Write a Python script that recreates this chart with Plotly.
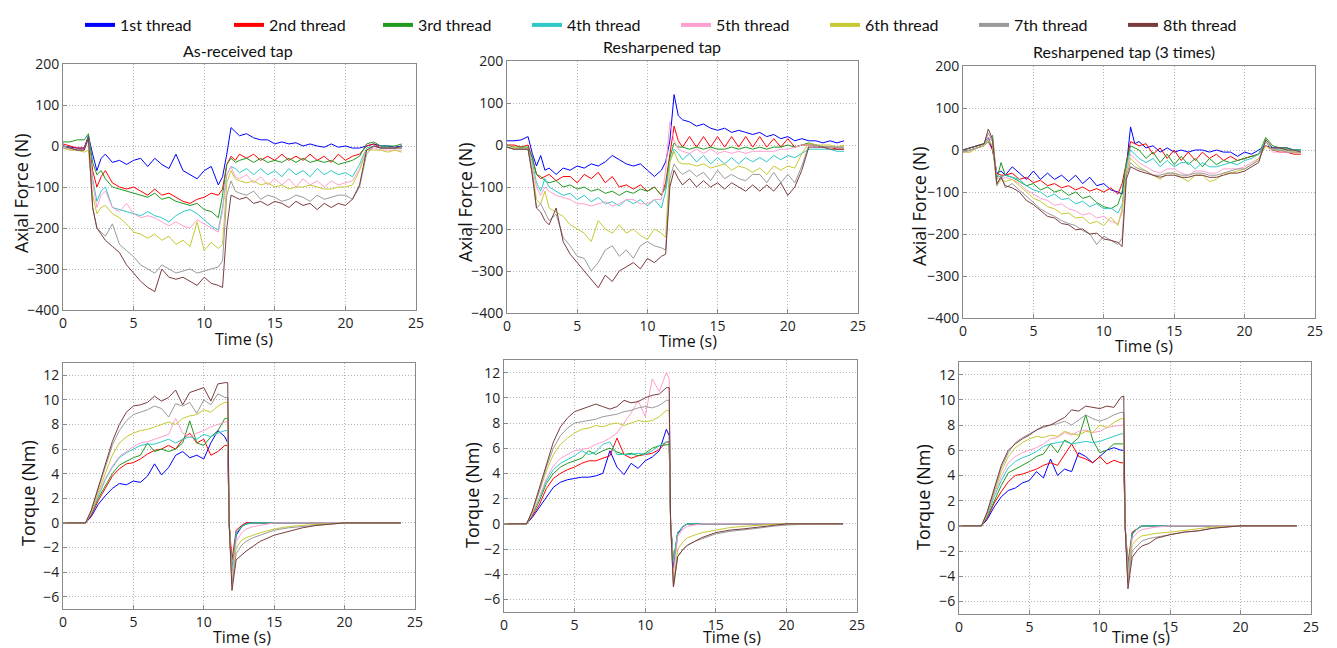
import plotly.graph_objects as go

# ---- data ----
threads = ["1st thread", "2nd thread", "3rd thread", "4th thread",
           "5th thread", "6th thread", "7th thread", "8th thread"]
colors = ["#0000ff", "#ff0000", "#1f9a1f", "#2ec8c8",
          "#ff9fcf", "#c8c832", "#9a9a9a", "#7a3c3c"]
titles = ["As-received tap", "Resharpened tap", "Resharpened tap (3 times)"]

t_force = [0, 0.5, 1, 1.5, 1.8, 2.1, 2.4, 2.7, 3,
           3.5, 4, 4.5, 5, 5.5, 6, 6.5, 7, 7.5, 8, 8.5, 9, 9.5, 10, 10.5, 11,
           11.3, 11.6, 11.9, 12.2, 12.5,
           13, 13.5, 14, 14.5, 15, 15.5, 16, 16.5, 17, 17.5, 18, 18.5, 19, 19.5,
           20, 20.5, 21, 21.5, 22, 22.5, 23, 23.5, 24]

t_torque = [0, 1, 1.6, 2,
            2.5, 3, 3.5, 4, 4.5, 5, 5.5, 6, 6.5, 7, 7.5, 8, 8.5, 9, 9.5, 10, 10.5, 11, 11.5,
            11.7, 11.8, 12, 12.3, 12.7,
            13, 13.5, 14, 15, 16, 17, 18, 19, 20, 22, 24]

force_as_received = [
    [0, -3, -5, -5, 25, -20, -60, -30, -20,
     -40, -35, -45, -35, -30, -50, -30, -45, -55, -20, -60, -70, -80, -60, -50, -95,
     -75, -20, 45, 35, 25,
     30, 20, 15, 15, 5, 10, 5, 8, 0, 5, 0, -3, 5, -3, 0, -5, -5, 0, 5, 0, 0, -3, 0],
    [5, 0, -5, -5, 20, -60, -100, -75, -60,
     -90, -100, -105, -100, -110, -120, -105, -120, -115, -125, -135, -140, -130, -125, -115, -120,
     -105, -45, -25, -35, -20,
     -30, -20, -35, -25, -35, -20, -35, -25, -35, -20, -35, -25, -40, -20, -35, -25, -20, 0, 5, -5, -5, -5, -5],
    [10, 10, 15, 15, 30, -40, -70, -60, -80,
     -100, -105, -110, -115, -120, -125, -115, -130, -125, -135, -140, -145, -140, -155, -160, -175,
     -120, -45, -30, -40, -35,
     -30, -40, -30, -40, -35, -40, -30, -40, -30, -40, -35, -40, -35, -45, -40, -35, -25, 5, 10, 0, 0, 0, 5],
    [0, -5, -10, -10, 20, -80, -135, -110, -100,
     -150, -155, -160, -165, -170, -160, -170, -175, -185, -170, -160, -155, -165, -180, -195, -205,
     -150, -70, -50, -55, -65,
     -55, -70, -55, -70, -60, -75, -55, -70, -60, -75, -55, -70, -60, -70, -65, -75, -45, -5, 0, -5, -5, -5, -5],
    [-5, -10, -10, -10, 15, -90, -150, -120, -110,
     -150, -160, -140, -165, -175, -170, -175, -185, -195, -185, -195, -200, -180, -190, -200, -210,
     -160, -70, -50, -75, -80,
     -70, -90, -75, -95, -80, -95, -80, -100, -80, -95, -85, -100, -85, -95, -90, -85, -55, -10, -5, -10, -10, -10, -10],
    [-5, -10, -10, -15, -10, -120, -165, -150, -145,
     -165, -175, -190, -210, -215, -225, -215, -230, -220, -240, -230, -245, -185, -255, -235, -250,
     -240, -90, -60, -80, -85,
     -90, -85, -95, -90, -100, -95, -105, -100, -100, -95, -100, -105, -105, -100, -100, -95, -60, -10, -10, -10, -15, -10, -15],
    [-5, -5, -10, -10, 20, -150, -200, -210, -220,
     -190, -240, -255, -270, -290, -300, -310, -290, -300, -310, -305, -300, -310, -305, -300, -295,
     -280, -120, -85, -110, -115,
     -120, -110, -130, -120, -125, -135, -130, -120, -125, -135, -120, -130, -125, -120, -120, -130, -100, -20, 0, -5, -5, -5, -5],
    [0, -5, -10, -10, 20, -150, -200, -215, -230,
     -245, -260, -290, -310, -330, -345, -355, -300, -320, -325, -320, -330, -340, -320, -335, -340,
     -345, -200, -120, -125, -130,
     -125, -140, -135, -145, -135, -140, -150, -135, -145, -140, -155, -140, -150, -140, -145, -130, -95, -10, 0, -5, -5, -5, 0],
]

force_resharpened = [
    [10, 10, 12, 20, -20, -50, -25, -60, -55,
     -70, -55, -60, -50, -55, -45, -50, -40, -25, -35, -45, -50, -45, -60, -75, -60,
     -40, 10, 120, 70, 60,
     55, 45, 50, 40, 35, 40, 30, 35, 30, 25, 30, 20, 25, 15, 20, 10, 15, 10, 10, 5, 10, 5, 10],
    [0, 0, -5, 0, -30, -70, -80, -75, -70,
     -85, -75, -75, -90, -70, -80, -65, -90, -75, -100, -95, -105, -95, -110, -100, -120,
     -90, -20, 45, 10, -5,
     20, -5, 20, -5, 20, -5, 20, -5, 20, -5, 20, -5, 15, -5, 15, -5, 0, 0, 0, -5, -5, -10, -10],
    [0, -5, -5, -5, -30, -70, -75, -85, -90,
     -85, -100, -95, -105, -100, -110, -105, -115, -110, -120, -110, -115, -105, -110, -100, -120,
     -100, -30, 5, -5, -5,
     -10, -5, -10, -5, -10, -10, -5, -10, -5, -10, -5, -10, -5, -5, 0, -5, 0, 5, 0, -5, -5, -5, -5],
    [-5, -10, -10, -10, -40, -90, -110, -80, -100,
     -110, -120, -115, -130, -120, -135, -125, -140, -135, -145, -130, -140, -130, -145, -130, -150,
     -110, -40, -10, -20, -35,
     -20, -40, -25, -45, -30, -45, -30, -45, -30, -40, -30, -40, -25, -35, -25, -30, -20, -10, -10, -10, -10, -15, -15],
    [-5, -10, -10, -10, -50, -100, -120, -100, -110,
     -120, -125, -130, -140, -140, -145, -140, -135, -145, -140, -130, -130, -140, -140, -130, -130,
     -60, 55, 10, -10, -15,
     -20, -10, -20, -10, -20, -15, -20, -15, -20, -15, -15, -15, -15, -10, -10, -5, 0, 0, -5, -5, -5, -5, -5],
    [-5, -5, -10, -10, -60, -130, -140, -110, -150,
     -160, -170, -190, -200, -210, -230, -180, -200, -210, -190, -210, -200, -215, -225, -200, -210,
     -220, -40, -15, -40, -45,
     -45, -50, -45, -55, -50, -45, -60, -50, -55, -65, -55, -70, -50, -60, -50, -55, -20, 5, 0, 0, 0, -5, 0],
    [-5, -10, -10, -10, -70, -150, -140, -160, -180,
     -165, -220, -240, -265, -270, -300, -280, -250, -240, -265, -250, -270, -240, -230, -240, -245,
     -250, -80, -45, -60, -70,
     -60, -75, -65, -85, -60, -80, -70, -80, -85, -70, -70, -90, -65, -90, -70, -90, -50, 0, 0, -5, -5, -5, -5],
    [-5, -10, -10, -10, -70, -150, -160, -180, -190,
     -150, -230, -260, -280, -300, -320, -340, -310, -325, -300, -290, -280, -295, -270, -280, -265,
     -260, -100, -60, -80, -95,
     -80, -100, -85, -100, -90, -105, -90, -100, -110, -95, -110, -95, -110, -90, -120, -100, -60, -5, -5, -5, -10, -10, -10],
]

force_resharpened_3x = [
    [0, 5, 10, 15, 30, 0, -55, -50, -60,
     -40, -55, -70, -50, -70, -55, -70, -60, -75, -60, -80, -65, -85, -80, -95, -100,
     -105, -40, 55, 15, 20,
     5, 10, -5, 5, -5, 0, -5, 0, 0, -5, 0, -5, -5, -15, -5, -10, 0, 10, 5, 5, 5, 0, 0],
    [-5, 0, 5, 10, 20, 0, -55, -60, -60,
     -55, -70, -65, -78, -72, -85, -80, -90, -85, -95, -88, -98, -92, -100, -90, -105,
     -80, -30, 20, 15, 10,
     15, -10, 5, -20, 0, -25, -5, -25, -5, -20, -10, -25, -15, -25, -20, -15, -10, 10, 0, -5, -5, -10, -10],
    [0, 5, 10, 15, 25, 35, -70, -30, -60,
     -65, -75, -85, -80, -95, -88, -100, -95, -108, -100, -115, -110, -125, -135, -140, -130,
     -100, -30, 10, 5, 0,
     -20, -5, -30, -10, -35, -15, -35, -20, -40, -20, -35, -25, -30, -25, -20, -15, -10, 30, 10, 5, 5, 0, 0],
    [-5, 0, 5, 10, 20, 10, -60, -65, -60,
     -65, -70, -85, -95, -100, -112, -105, -118, -115, -128, -122, -135, -128, -140, -138, -150,
     -130, -40, 0, -10, -20,
     -30, -20, -40, -25, -40, -30, -30, -45, -30, -40, -40, -35, -30, -35, -25, -20, -10, 20, 0, 0, 0, 0, 0],
    [-5, -5, 5, 10, 30, 20, -65, -70, -65,
     -70, -80, -95, -105, -115, -120, -132, -128, -140, -145, -155, -150, -162, -158, -170, -175,
     -150, -50, -10, -20, -30,
     -40, -50, -55, -45, -45, -55, -60, -50, -50, -55, -55, -45, -45, -45, -40, -30, -20, 10, -5, -5, -5, -5, -5],
    [-5, -5, 5, 10, 25, 10, -85, -70, -75,
     -70, -85, -100, -115, -122, -135, -140, -152, -150, -162, -160, -175, -170, -180, -160, -180,
     -140, -50, -20, -30, -40,
     -50, -60, -70, -55, -55, -65, -75, -60, -60, -75, -70, -55, -55, -50, -45, -35, -20, 10, 0, 0, 0, -5, -5],
    [-5, 0, 5, 15, 40, 20, -85, -60, -90,
     -80, -95, -110, -125, -140, -150, -158, -168, -175, -180, -192, -200, -225, -205, -215, -225,
     -210, -60, -30, -40, -45,
     -50, -60, -60, -55, -55, -60, -60, -55, -55, -60, -60, -55, -50, -45, -45, -35, -25, 20, 0, 0, -5, -5, -5],
    [0, 5, 10, 15, 50, 25, -80, -65, -85,
     -90, -100, -120, -130, -145, -158, -162, -175, -178, -190, -188, -200, -198, -212, -215, -220,
     -230, -70, -40, -45, -50,
     -55, -60, -65, -60, -60, -65, -65, -60, -60, -65, -65, -60, -55, -55, -50, -40, -30, 25, 5, 5, 0, 0, -5],
]

torque_as_received = [
    [0, 0, 0, 0.5,
     1.5, 2.2, 2.8, 3.2, 3.1, 3.4, 3.3, 3.8, 4.8, 3.9, 4.5, 5.5, 5.8, 5.3, 5.5, 5.2, 6.5, 7.5, 7.0,
     6.5, 0, -4, -1, -0.3,
     0, 0, 0, 0, 0, 0, 0, 0, 0, 0, 0],
    [0, 0, 0, 0.6,
     1.8, 2.8, 3.8, 4.4, 4.8, 4.9, 5.2, 5.6, 5.9, 6.0, 6.3, 6.0, 6.8, 7.3, 6.5, 6.8, 5.5, 5.8, 6.3,
     6.3, 0, -3, -0.6, -0.2,
     0, 0, 0, 0, 0, 0, 0, 0, 0, 0, 0],
    [0, 0, 0, 0.7,
     2.0, 3.0, 4.0, 4.7, 5.0, 5.3, 5.5, 6.5, 5.8, 6.0, 5.8, 6.0, 6.5, 8.3, 6.5, 6.3, 7.0, 7.5, 8.5,
     8.5, 0, -4, -0.8, -0.3,
     -0.1, 0, 0, 0, 0, 0, 0, 0, 0, 0, 0],
    [0, 0, 0, 0.8,
     2.2, 3.5, 4.5, 5.3, 5.7, 6.0, 6.3, 6.4, 6.4, 6.6, 6.8, 6.5, 6.8, 7.0, 6.8, 7.2, 7.0, 7.3, 7.5,
     7.5, 0, -4, -0.8, -0.3,
     -0.1, 0, 0, 0, 0, 0, 0, 0, 0, 0, 0],
    [0, 0, 0, 0.8,
     2.3, 3.6, 4.6, 5.4, 5.8, 6.2, 6.5, 6.6, 6.8, 7.0, 7.2, 8.5, 7.3, 7.0, 7.3, 7.5, 7.8, 8.0, 8.2,
     8.2, 0, -4.5, -1.5, -0.8,
     -0.5, -0.3, -0.2, 0, 0, 0, 0, 0, 0, 0, 0],
    [0, 0, 0, 0.9,
     2.5, 4.0, 5.5, 6.5, 7.0, 7.3, 7.5, 7.6, 7.8, 8.0, 8.2, 8.0, 8.5, 8.7, 8.8, 9.2, 9.0, 9.5, 9.8,
     9.8, 0, -5, -2, -1.4,
     -1.2, -1.0, -0.8, -0.5, -0.3, -0.2, -0.1, -0.05, 0, 0, 0],
    [0, 0, 0, 1.0,
     2.7, 4.5, 6.3, 7.5, 8.3, 8.8, 9.0, 9.2, 9.5, 9.3, 8.6, 9.7, 9.5, 9.8, 8.9, 10.0, 9.6, 10.5, 10.2,
     10.2, 0, -5, -2.5, -1.8,
     -1.5, -1.2, -1.0, -0.6, -0.4, -0.3, -0.2, -0.1, 0, 0, 0],
    [0, 0, 0, 1.0,
     2.8, 4.8, 6.6, 8.0, 9.0, 9.5, 9.6, 9.8, 10.3, 9.9, 10.2, 10.8, 9.6, 10.6, 10.8, 11.0, 9.9, 11.3, 11.4,
     11.4, 0, -5.5, -3.0, -2.6,
     -2.3, -1.9, -1.5, -1.0, -0.7, -0.4, -0.2, -0.1, 0, 0, 0],
]

torque_resharpened = [
    [0, 0, 0, 0.5,
     1.3, 2.2, 2.9, 3.3, 3.5, 3.6, 3.7, 3.7, 3.8, 4.0, 5.8, 4.5, 3.9, 4.8, 4.4, 5.0, 5.3, 5.8, 7.5,
     7.0, 0, -3.5, -0.8, -0.2,
     0, 0, 0, 0, 0, 0, 0, 0, 0, 0, 0],
    [0, 0, 0, 0.6,
     1.5, 2.8, 3.6, 4.0, 4.3, 4.5, 4.8, 5.0, 5.0, 5.2, 5.4, 6.8, 5.5, 5.2, 5.4, 5.5, 5.6, 5.9, 6.5,
     6.5, 0, -3, -0.7, -0.2,
     0, 0, 0, 0, 0, 0, 0, 0, 0, 0, 0],
    [0, 0, 0, 0.7,
     1.8, 3.2, 4.0, 4.5, 4.8, 5.0, 5.2, 5.8, 5.5, 5.8, 6.0, 5.7, 5.5, 5.6, 5.4, 5.6, 6.0, 6.2, 6.3,
     6.3, 0, -3, -0.7, -0.2,
     0, 0, 0, 0, 0, 0, 0, 0, 0, 0, 0],
    [0, 0, 0, 0.8,
     2.0, 3.4, 4.3, 4.8, 5.1, 5.4, 5.8, 5.5, 5.7, 6.3, 6.5, 5.5, 5.5, 5.5, 5.6, 5.5, 5.8, 6.2, 6.5,
     6.5, 0, -3, -0.7, -0.2,
     0, 0, 0, 0, 0, 0, 0, 0, 0, 0, 0],
    [0, 0, 0, 0.8,
     2.1, 3.6, 4.6, 5.2, 5.5, 5.8, 5.9, 6.0, 6.3, 6.5, 6.8, 7.2, 8.0, 8.8, 9.8, 8.5, 11.5, 10.5, 12.0,
     11.5, 0, -4, -1.0, -0.4,
     -0.2, -0.1, 0, 0, 0, 0, 0, 0, 0, 0, 0],
    [0, 0, 0, 0.9,
     2.5, 4.2, 5.5, 6.3, 6.8, 7.2, 7.5, 7.6, 7.8, 7.7, 7.9, 8.0, 7.8, 8.0, 8.2, 8.1, 8.2, 8.5, 9.0,
     9.0, 0, -4.8, -2.0, -1.4,
     -1.1, -0.9, -0.7, -0.5, -0.3, -0.2, -0.1, -0.05, 0, 0, 0],
    [0, 0, 0, 1.0,
     2.6, 4.5, 6.0, 7.0, 7.6, 8.0, 8.1, 8.2, 8.3, 8.5, 8.6, 8.7, 8.9, 9.0, 9.2, 9.3, 9.2, 9.4, 9.8,
     9.8, 0, -5, -2.6, -2.0,
     -1.7, -1.4, -1.2, -0.8, -0.6, -0.5, -0.35, -0.2, -0.1, 0, 0],
    [0, 0, 0, 1.0,
     2.8, 4.8, 6.5, 7.7, 8.4, 8.9, 9.1, 9.3, 9.5, 9.3, 9.1, 9.3, 9.8, 9.6, 9.7, 10.0, 10.2, 10.3, 10.8,
     10.8, 0, -5, -2.6, -2.0,
     -1.7, -1.4, -1.1, -0.7, -0.5, -0.4, -0.25, -0.1, 0, 0, 0],
]

torque_resharpened_3x = [
    [0, 0, 0, 0.5,
     1.5, 2.3, 2.8, 3.0, 3.4, 3.6, 4.3, 3.8, 5.3, 4.0, 4.5, 4.3, 5.8, 5.5, 5.0, 5.5, 6.0, 6.2, 6.0,
     6.0, 0, -4.5, -0.6, -0.2,
     0, 0, 0, 0, 0, 0, 0, 0, 0, 0, 0],
    [0, 0, 0, 0.6,
     1.8, 2.7, 3.5, 4.0, 4.1, 4.3, 4.5, 4.8, 5.0, 4.8, 5.7, 6.5, 5.5, 5.3, 5.0, 5.5, 4.9, 5.2, 5.0,
     5.0, 0, -3, -0.5, -0.2,
     0, 0, 0, 0, 0, 0, 0, 0, 0, 0, 0],
    [0, 0, 0, 0.7,
     2.0, 3.2, 4.2, 4.5, 4.8, 5.1, 5.5, 5.7, 6.5, 5.8, 6.8, 6.5, 7.0, 8.8, 6.8, 5.8, 6.0, 6.5, 6.5,
     6.5, 0, -3.5, -0.6, -0.2,
     0, 0, 0, 0, 0, 0, 0, 0, 0, 0, 0],
    [0, 0, 0, 0.8,
     2.3, 3.6, 4.6, 5.1, 5.4, 5.6, 5.9, 6.3, 6.5, 6.6, 6.7, 6.5, 6.6, 6.7, 6.6, 6.7, 6.9, 7.1, 7.3,
     7.3, 0, -3.5, -0.7, -0.2,
     0, 0, 0, 0, 0, 0, 0, 0, 0, 0, 0],
    [0, 0, 0, 0.9,
     2.5, 3.9, 5.0, 5.5, 5.8, 6.0, 6.2, 6.5, 6.9, 7.0, 7.4, 7.2, 7.5, 7.6, 7.4, 7.5, 7.8, 7.9, 8.0,
     8.0, 0, -4, -1.0, -0.5,
     -0.3, -0.2, -0.1, 0, 0, 0, 0, 0, 0, 0, 0],
    [0, 0, 0, 1.0,
     2.7, 4.3, 5.5, 6.2, 6.6, 6.9, 7.1, 7.0, 7.2, 7.1, 7.5, 7.3, 7.2, 7.5, 7.4, 8.0, 7.8, 8.2, 8.5,
     8.5, 0, -4.5, -1.5, -1.0,
     -0.8, -0.7, -0.6, -0.5, -0.35, -0.25, -0.1, -0.05, 0, 0, 0],
    [0, 0, 0, 1.0,
     2.9, 4.6, 5.8, 6.6, 7.0, 7.3, 7.6, 7.8, 8.0, 8.1, 8.3, 8.0, 8.4, 8.8, 8.5, 8.3, 8.5, 8.8, 9.0,
     9.0, 0, -4.5, -2.0, -1.5,
     -1.2, -1.0, -0.9, -0.7, -0.5, -0.4, -0.2, -0.1, 0, 0, 0],
    [0, 0, 0, 1.1,
     3.0, 4.8, 6.0, 6.5, 6.9, 7.2, 7.6, 7.9, 8.0, 8.3, 8.6, 9.2, 9.1, 9.5, 9.4, 9.3, 9.5, 9.4, 10.2,
     10.3, 0, -5, -2.5, -1.9,
     -1.6, -1.4, -1.0, -0.7, -0.5, -0.4, -0.2, -0.1, 0, 0, 0],
]

# ---- layout helpers ----
# the page body has an 8px margin, so the figure starts at (8, 8) in the window
PAGE_W, PAGE_H, OFF = 1337, 648, 8
W, H = PAGE_W - OFF, PAGE_H - OFF


def px_x(x):
    return (x - OFF) / W


def px_y(y):
    return 1 - (y - OFF) / H


# left, top, right, bottom of each plot frame (window pixels)
boxes = [(63, 64, 416, 310), (507, 61, 858, 313), (963, 66, 1315, 318),
         (63, 363, 415, 609), (504, 360, 857, 612), (959, 362, 1311, 614)]

panels = [
    (t_force, force_as_received), (t_force, force_resharpened), (t_force, force_resharpened_3x),
    (t_torque, torque_as_received), (t_torque, torque_resharpened), (t_torque, torque_resharpened_3x),
]

fig = go.Figure()

for i, (tt, series) in enumerate(panels):
    ax = "" if i == 0 else str(i + 1)
    for k, ys in enumerate(series):
        assert len(ys) == len(tt), (i, k, len(ys))
        fig.add_trace(go.Scatter(
            x=tt, y=ys, mode="lines", xaxis="x" + ax, yaxis="y" + ax,
            line=dict(color=colors[k], width=1), showlegend=False, hoverinfo="skip"))

# legend entries with thick sample lines
for k, name in enumerate(threads):
    fig.add_trace(go.Scatter(x=[None], y=[None], mode="lines", name=name,
                             line=dict(color=colors[k], width=4)))

axis_common = dict(showline=True, mirror=True, linecolor="#8a8a8a", linewidth=1,
                   showgrid=True, gridcolor="#b4b4b4", griddash="1px,2px", gridwidth=1,
                   zeroline=False, ticks="inside", ticklen=4, tickcolor="#8a8a8a",
                   automargin=False,
                   tickfont=dict(family="Open Sans", size=14, color="#222"))

layout = {}
for i, (l, t, r, b) in enumerate(boxes):
    ax = "" if i == 0 else str(i + 1)
    xa = dict(axis_common, domain=[px_x(l), px_x(r)], range=[0, 25], tick0=0, dtick=5,
              anchor="y" + ax)
    if i < 3:
        ya = dict(axis_common, domain=[px_y(b), px_y(t)], range=[-400, 200], tick0=-400,
                  dtick=100, anchor="x" + ax)
    else:
        ya = dict(axis_common, domain=[px_y(b), px_y(t)], range=[-7, 13], tickvals=list(range(-6, 13, 2)),
                  anchor="x" + ax)
    layout["xaxis" + ax] = xa
    layout["yaxis" + ax] = ya

fig.update_layout(**layout)


def label(txt, x, y, size, family="Open Sans", angle=0):
    return dict(text=txt, x=px_x(x), y=px_y(y), xref="paper", yref="paper",
                xanchor="center", yanchor="middle", textangle=angle, showarrow=False,
                font=dict(family=family, size=size, color="#111"))


ann = []
title_pos = [(238, 51), (662, 47), (1124, 52)]
for txt, (x, y) in zip(titles, title_pos):
    ann.append(label(txt, x, y, 16, family="Lato"))

time_pos = [(244, 339), (688, 341), (1144, 346), (242, 637), (732, 637), (1141, 637)]
for x, y in time_pos:
    ann.append(label("Time (s)", x, y, 16))

ylab_pos = [(21, 193, "Axial Force (N)"), (465, 202, "Axial Force (N)"), (919, 206, "Axial Force (N)"),
            (28, 493, "Torque (Nm)"), (472, 495, "Torque (Nm)"), (923, 497, "Torque (Nm)")]
for x, y, txt in ylab_pos:
    ann.append(label(txt, x, y, 18, angle=-90))

fig.update_layout(
    width=W, height=H,
    margin=dict(l=0, r=0, t=0, b=0, autoexpand=False),
    paper_bgcolor="white", plot_bgcolor="white",
    annotations=ann,
    legend=dict(orientation="h", x=px_x(80), y=px_y(8), xanchor="left", yanchor="top",
                entrywidth=104, entrywidthmode="pixels", itemwidth=30,
                font=dict(family="Lato", size=16, color="#111"), bgcolor="rgba(0,0,0,0)"),
)

fig.write_html("out.html")
